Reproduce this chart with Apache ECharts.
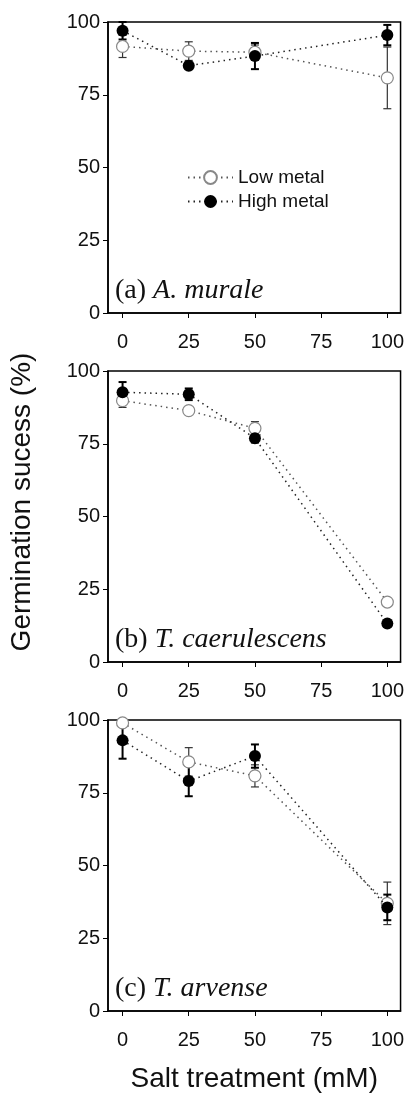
<!DOCTYPE html>
<html>
<head>
<meta charset="utf-8">
<script src="https://cdn.jsdelivr.net/npm/echarts@6/dist/echarts.min.js"></script>
<style>
  html, body { margin: 0; padding: 0; background: #fff; }
  #main { width: 407px; height: 1094px; }
</style>
</head>
<body>
<div id="main"></div>
<script>
// salt treatment levels (mM)
var salt = [0, 25, 50, 100];
var xTicks = [0, 25, 50, 75, 100];

// (a) A. murale
var lowA = [91.6, 90.0, 89.6, 80.8];
var lowAErr = [3.8, 3.2, 2.5, 10.6];
var highA = [97.0, 85.0, 88.3, 95.5];
var highAErr = [3.0, 1.0, 4.5, 3.5];

// (b) T. caerulescens
var lowB = [89.8, 86.4, 80.3, 20.6];
var lowBErr = [2.3, 1.0, 2.3, 1.0];
var highB = [92.7, 92.0, 76.9, 13.2];
var highBErr = [3.5, 2.0, 1.5, 0.5];

// (c) T. arvense
var lowC = [99.0, 85.6, 80.8, 37.0];
var lowCErr = [1.5, 4.9, 3.8, 7.3];
var highC = [93.0, 79.0, 87.6, 35.6];
var highCErr = [6.3, 5.2, 4.0, 4.4];

var panels = [
    { tag: '(a) ', name: 'A. murale', low: lowA, lowErr: lowAErr, high: highA, highErr: highAErr, top: 22 },
    { tag: '(b) ', name: 'T. caerulescens', low: lowB, lowErr: lowBErr, high: highB, highErr: highBErr, top: 371 },
    { tag: '(c) ', name: 'T. arvense', low: lowC, lowErr: lowCErr, high: highC, highErr: highCErr, top: 720 }
];

var sans = 'Liberation Sans, Arial, sans-serif';
var serif = 'Liberation Serif, Times New Roman, serif';

function pts(vals) {
    return salt.map(function (x, i) { return [x, vals[i]]; });
}

function errPts(vals, errs) {
    return salt.map(function (x, i) { return [x, vals[i] - errs[i], vals[i] + errs[i]]; });
}

// error bar with caps
function errBar(color, width) {
    return function (params, api) {
        var top = api.coord([api.value(0), api.value(2)]);
        var bot = api.coord([api.value(0), api.value(1)]);
        var w = 4;
        var st = { stroke: color, lineWidth: width };
        return {
            type: 'group',
            children: [
                { type: 'line', shape: { x1: top[0], y1: top[1], x2: bot[0], y2: bot[1] }, style: st },
                { type: 'line', shape: { x1: top[0] - w, y1: top[1], x2: top[0] + w, y2: top[1] }, style: st },
                { type: 'line', shape: { x1: bot[0] - w, y1: bot[1], x2: bot[0] + w, y2: bot[1] }, style: st }
            ]
        };
    };
}

var grids = [], xAxes = [], yAxes = [], series = [], titles = [];

panels.forEach(function (p, k) {
    grids.push({
        left: 108, right: 6, top: p.top, height: 291,
        show: true, borderColor: '#000', borderWidth: 1.5
    });
    xAxes.push({
        type: 'value', gridIndex: k, min: -5.5, max: 105,
        axisLine: { onZero: false, lineStyle: { color: '#000', width: 1.5 } },
        axisTick: { show: true, length: 5, customValues: xTicks, lineStyle: { color: '#000' } },
        axisLabel: { customValues: xTicks, margin: 19, fontSize: 20, color: '#111', fontFamily: sans },
        splitLine: { show: false },
        name: k === 2 ? 'Salt treatment (mM)' : '',
        nameLocation: 'middle', nameGap: 54,
        nameTextStyle: { fontSize: 28, color: '#111', fontFamily: sans }
    });
    yAxes.push({
        type: 'value', gridIndex: k, min: 0, max: 100, interval: 25,
        axisLine: { show: true, onZero: false, lineStyle: { color: '#000', width: 1.5 } },
        axisTick: { show: true, length: 5, lineStyle: { color: '#000' } },
        axisLabel: { margin: 8, fontSize: 20, color: '#111', fontFamily: sans },
        splitLine: { show: false }
    });
    titles.push({
        text: '{n|' + p.tag + '}{i|' + p.name + '}',
        left: 110, top: p.top + 250,
        textStyle: {
            rich: {
                n: { fontSize: 28, fontFamily: serif, fontWeight: 'normal', color: '#111' },
                i: { fontSize: 28, fontFamily: serif, fontWeight: 'normal', fontStyle: 'italic', color: '#111' }
            }
        }
    });

    series.push({
        type: 'custom', xAxisIndex: k, yAxisIndex: k, z: 2,
        renderItem: errBar('#333', 1.2),
        data: errPts(p.low, p.lowErr)
    });
    series.push({
        type: 'custom', xAxisIndex: k, yAxisIndex: k, z: 2,
        renderItem: errBar('#000', 2),
        data: errPts(p.high, p.highErr)
    });
    series.push({
        name: 'Low metal', type: 'line', xAxisIndex: k, yAxisIndex: k, z: 3,
        symbol: 'circle', symbolSize: 12,
        itemStyle: { color: '#fff', borderColor: '#888', borderWidth: 1.2 },
        lineStyle: { color: '#555', width: 1.5, type: [1.5, 4] },
        data: pts(p.low)
    });
    series.push({
        name: 'High metal', type: 'line', xAxisIndex: k, yAxisIndex: k, z: 4,
        symbol: 'circle', symbolSize: 12,
        itemStyle: { color: '#000' },
        lineStyle: { color: '#222', width: 1.5, type: [1.5, 4] },
        data: pts(p.high)
    });
});

var myChart = echarts.init(document.getElementById('main'));
var option = {
    backgroundColor: '#fff',
    animation: false,
    title: titles,
    legend: {
        data: ['Low metal', 'High metal'],
        orient: 'vertical',
        left: 182, top: 163,
        itemWidth: 45, itemHeight: 16, itemGap: 5,
        textStyle: { fontSize: 19, color: '#111', fontFamily: sans }
    },
    graphic: [{
        type: 'text', x: 22, y: 502, rotation: Math.PI / 2,
        style: {
            text: 'Germination sucess (%)', fontSize: 28, fontFamily: sans, fill: '#111',
            textAlign: 'center', textVerticalAlign: 'middle'
        }
    }],
    grid: grids,
    xAxis: xAxes,
    yAxis: yAxes,
    series: series
};
myChart.setOption(option);
</script>
</body>
</html>
